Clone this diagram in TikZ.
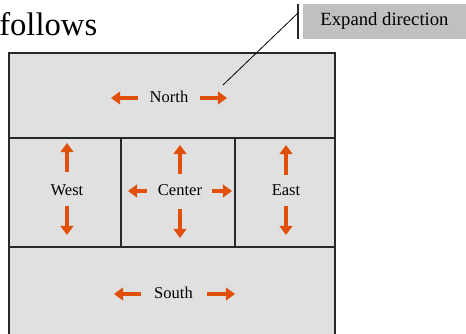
\documentclass[tikz,border=0pt]{standalone}
\usepackage{fontspec}
\setmainfont{Liberation Serif}
\newfontfamily\tnr{Liberation Serif}
\usetikzlibrary{arrows.meta}
\definecolor{regiongray}{RGB}{224,224,224}
\definecolor{calloutgray}{RGB}{192,192,192}
\definecolor{arroworange}{RGB}{224,80,10}
\definecolor{framegray}{RGB}{40,40,40}
\tikzset{
  region/.style={draw=framegray, line width=0.8pt, fill=regiongray},
  lbl/.style={font=\tnr\fontsize{12.4}{14}\selectfont, inner sep=0pt, anchor=base},
  expandarrow/.style={draw=arroworange, line width=3.4pt, line cap=butt,
    -{Triangle[length=6.8pt,width=9.5pt]}},
}
\begin{document}
\begin{tikzpicture}[x=0.75pt,y=-0.75pt]
\useasboundingbox (0,0) rectangle (466,334);
\clip (0,0) rectangle (466,334);
% title fragment
\node[font=\tnr\fontsize{24.5}{28}\selectfont, inner sep=0pt, anchor=base west] (title) at (-1,36) {follows};
% regions
\draw[region] (9,53) rectangle (335,138);
\draw[region] (9,138) rectangle (121,247);
\draw[region] (121,138) rectangle (235,247);
\draw[region] (235,138) rectangle (335,247);
\draw[region] (9,247) rectangle (335,360);
% labels
\node[lbl] (north) at (169,102.5) {North};
\node[lbl] (west) at (67,195.5) {West};
\node[lbl] (center) at (180,195.5) {Center};
\node[lbl] (east) at (286,195.5) {East};
\node[lbl] (south) at (173.5,298.5) {South};
% arrows
\draw[expandarrow] (138,98) -- (111,98);
\draw[expandarrow] (200,98) -- (227,98);
\draw[expandarrow] (67,172) -- (67,143);
\draw[expandarrow] (67,206) -- (67,235);
\draw[expandarrow] (180,174) -- (180,145);
\draw[expandarrow] (180,209) -- (180,238);
\draw[expandarrow] (147,191) -- (128,191);
\draw[expandarrow] (212,191) -- (232,191);
\draw[expandarrow] (286,175) -- (286,145);
\draw[expandarrow] (286,206) -- (286,235);
\draw[expandarrow] (141,294) -- (114,294);
\draw[expandarrow] (207,294) -- (235,294);
% callout
\fill[calloutgray] (303,4) rectangle (470,39);
\node[font=\tnr\fontsize{14}{16}\selectfont, inner sep=0pt, anchor=base] (callout) at (384.5,26) {Expand direction};
\draw[framegray, line width=0.8pt] (298,4) -- (298,39);
\coordinate (barpt) at (298,13);
\coordinate (target) at (223,85);
\draw[black, line width=0.6pt] (barpt) -- (target);
\end{tikzpicture}
\end{document}
